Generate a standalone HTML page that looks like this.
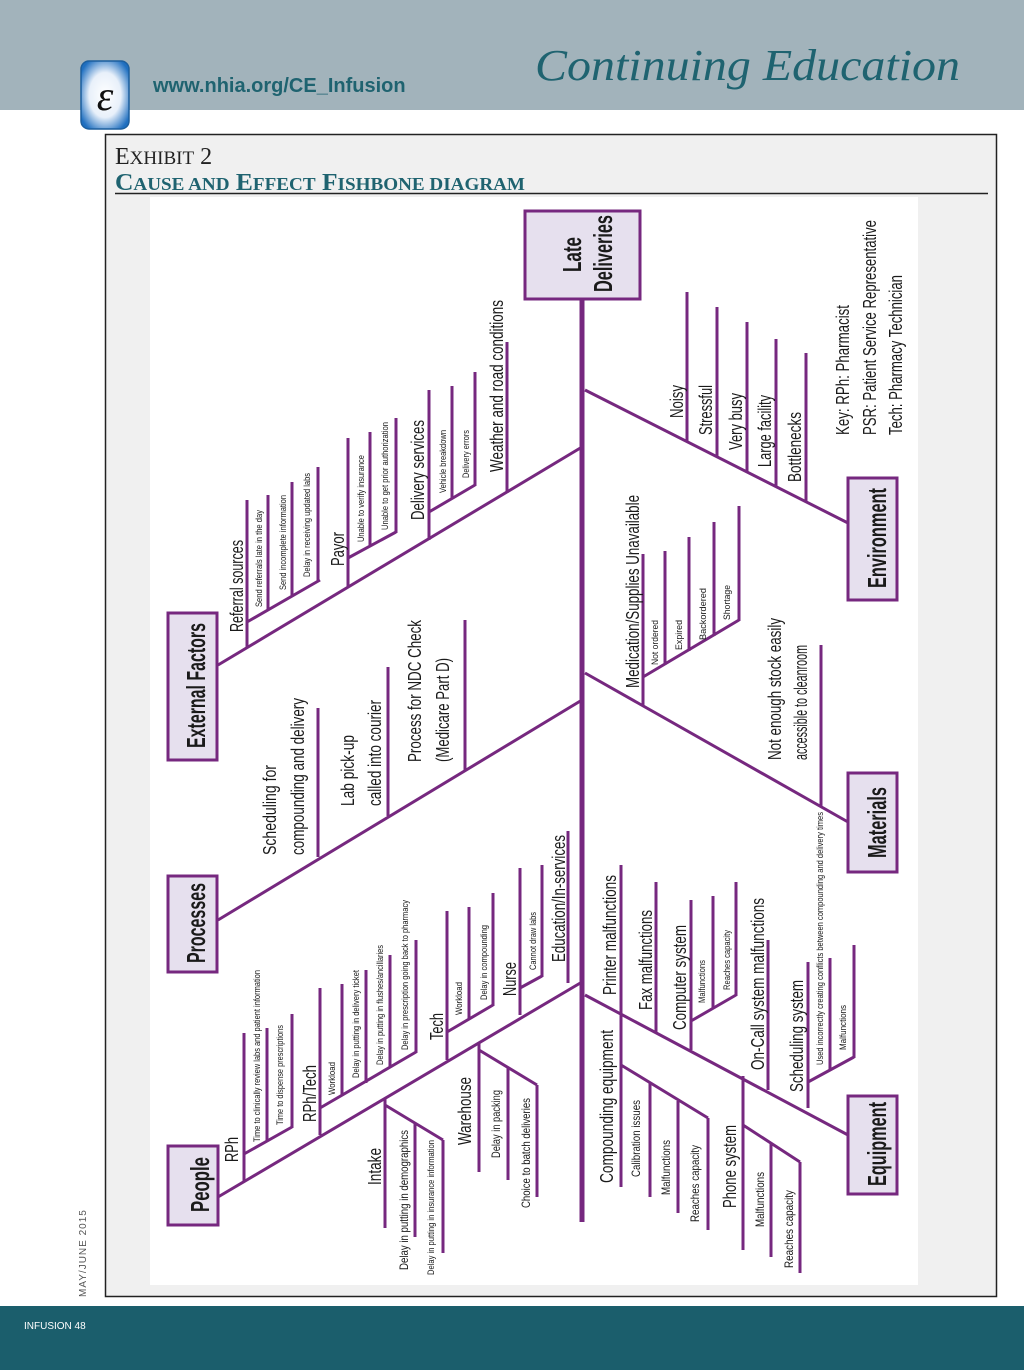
<!DOCTYPE html>
<html><head><meta charset="utf-8"><style>
html,body{margin:0;padding:0;background:#fff;width:1024px;height:1370px;overflow:hidden}
svg{display:block}
text{font-family:"Liberation Sans",sans-serif;fill:#1a1a1a}
</style></head><body>
<svg width="1024" height="1370" viewBox="0 0 1024 1370" xmlns="http://www.w3.org/2000/svg">
<defs><radialGradient id="lg" cx="50%" cy="50%" r="60%"><stop offset="0" stop-color="#fff"/><stop offset="0.55" stop-color="#e8f0fa"/><stop offset="1" stop-color="#1f6fc0"/></radialGradient></defs>
<rect x="0" y="0" width="1024" height="110" fill="#a2b3bb"/>
<rect x="81" y="61" width="48" height="68" rx="8" fill="url(#lg)" stroke="#1c5f9e" stroke-width="1.5"/>
<text x="105" y="110" font-size="42" text-anchor="middle" style="font-family:'Liberation Serif',serif;fill:#111;font-style:italic">ε</text>
<text x="153" y="92" font-size="20" style="fill:#1f6370;font-weight:bold">www.nhia.org/CE_Infusion</text>
<text x="535" y="80" font-size="44" textLength="425" lengthAdjust="spacingAndGlyphs" style="font-family:'Liberation Serif',serif;font-style:italic;fill:#1f6370">Continuing Education</text>

<rect x="105.5" y="134.5" width="891" height="1162" fill="#f0f0f0" stroke="#222" stroke-width="1.5"/>
<text x="115" y="164" font-size="24" style="font-family:'Liberation Serif',serif;fill:#222">E<tspan font-size="19">XHIBIT</tspan> 2</text>
<text x="115" y="190" font-size="24" textLength="410" lengthAdjust="spacingAndGlyphs" style="font-family:'Liberation Serif',serif;fill:#1f6370;font-weight:bold">C<tspan font-size="18">AUSE AND</tspan> E<tspan font-size="18">FFECT</tspan> F<tspan font-size="18">ISHBONE DIAGRAM</tspan></text>
<line x1="115" y1="193.5" x2="988" y2="193.5" stroke="#222" stroke-width="1.5"/>
<rect x="150" y="197" width="768" height="1088" fill="#fff"/>

<text transform="translate(86,1297) rotate(-90)" font-size="10" style="fill:#555;letter-spacing:1px">MAY/JUNE 2015</text>
<rect x="0" y="1306" width="1024" height="64" fill="#1b5e6c"/>
<text x="24" y="1329" font-size="10" style="fill:#fff">INFUSION 48</text>

<g stroke="#76287f" fill="none" stroke-width="3">
<line x1="582" y1="298" x2="582" y2="1222" stroke-width="5"/>
<!-- main bones -->
<line x1="218" y1="665" x2="582" y2="447"/>
<line x1="218" y1="920" x2="582" y2="700"/>
<line x1="218" y1="1197" x2="582" y2="982"/>
<line x1="585" y1="390" x2="848" y2="523"/>
<line x1="585" y1="673" x2="848" y2="822"/>
<line x1="585" y1="995" x2="848" y2="1135"/>
<!-- External -->
<path d="M247 500V648 M247 622L320 580 M268 495V610 M292 482V597 M318 467V582"/>
<path d="M348 438V588 M348 558L396 532 M370 432V547 M396 418V533"/>
<path d="M429 390V540 M429 512L475 485 M452 386V499 M475 372V486"/>
<path d="M507 342V493"/>
<!-- Processes -->
<path d="M318 708V857 M388 667V816 M465 620V770"/>
<!-- People -->
<path d="M244 1033V1182 M244 1154L292 1127 M267 1028V1141 M292 1014V1128"/>
<path d="M320 988V1135 M320 1108L416 1052 M342 984V1096 M366 970V1083 M390 955V1068 M416 940V1053"/>
<path d="M447 911V1060 M447 1032L493 1005 M469 907V1019 M493 893V1006"/>
<path d="M520 868V1015 M520 988L542 976 M542 865V977"/>
<path d="M568 831V983"/>
<path d="M385 1098V1228 M385 1105L443 1140 M415 1123V1237 M443 1140V1253"/>
<path d="M479 1042V1172 M479 1050L537 1085 M508 1067V1180 M537 1085V1197"/>
<!-- Equipment -->
<path d="M621 865V1187 M621 1065L708 1118 M650 1083V1197 M678 1101V1213 M708 1118V1230"/>
<path d="M656 882V1032 M691 900V1050 M691 1021L736 995 M713 896V1008 M736 882V996"/>
<path d="M743 1076V1250 M743 1125L800 1162 M771 1143V1257 M800 1162V1273"/>
<path d="M768 940V1090 M808 962V1108 M808 1082L854 1057 M830 958V1070 M854 945V1058"/>
<!-- Materials -->
<path d="M643 554V706 M643 677L739 620 M665 551V665 M689 537V651 M714 522V636 M739 506V621"/>
<path d="M821 645V806"/>
<!-- Environment -->
<path d="M687 292V442 M717 307V457 M747 322V472 M776 339V487 M806 353V502"/>
</g>
<!-- boxes -->
<g fill="#e6e0ee" stroke="#76287f" stroke-width="3">
<rect x="525" y="211" width="115" height="88"/>
<rect x="168" y="613" width="49" height="147"/>
<rect x="168" y="876" width="49" height="96"/>
<rect x="168" y="1146" width="50" height="79"/>
<rect x="848" y="478" width="49" height="122"/>
<rect x="848" y="773" width="49" height="99"/>
<rect x="848" y="1096" width="49" height="98"/>
</g>
<g font-weight="bold" font-size="26">
<text transform="translate(581,272) rotate(-90)" textLength="35" lengthAdjust="spacingAndGlyphs">Late</text>
<text transform="translate(612,292) rotate(-90)" textLength="77" lengthAdjust="spacingAndGlyphs">Deliveries</text>
<text transform="translate(205,748) rotate(-90)" textLength="125" lengthAdjust="spacingAndGlyphs">External Factors</text>
<text transform="translate(205,963) rotate(-90)" textLength="80" lengthAdjust="spacingAndGlyphs">Processes</text>
<text transform="translate(209,1212) rotate(-90)" textLength="55" lengthAdjust="spacingAndGlyphs">People</text>
<text transform="translate(886,588) rotate(-90)" textLength="100" lengthAdjust="spacingAndGlyphs">Environment</text>
<text transform="translate(886,858) rotate(-90)" textLength="71" lengthAdjust="spacingAndGlyphs">Materials</text>
<text transform="translate(886,1186) rotate(-90)" textLength="84" lengthAdjust="spacingAndGlyphs">Equipment</text>
</g>
<g font-size="18">
<text transform="translate(243,632) rotate(-90)" textLength="92" lengthAdjust="spacingAndGlyphs">Referral sources</text>
<text transform="translate(344,566) rotate(-90)" textLength="34" lengthAdjust="spacingAndGlyphs">Payor</text>
<text transform="translate(424,520) rotate(-90)" textLength="100" lengthAdjust="spacingAndGlyphs">Delivery services</text>
<text transform="translate(503,472) rotate(-90)" textLength="172" lengthAdjust="spacingAndGlyphs">Weather and road conditions</text>
<text transform="translate(276,855) rotate(-90)" textLength="90" lengthAdjust="spacingAndGlyphs">Scheduling for</text>
<text transform="translate(304,855) rotate(-90)" textLength="157" lengthAdjust="spacingAndGlyphs">compounding and delivery</text>
<text transform="translate(354,806) rotate(-90)" textLength="71" lengthAdjust="spacingAndGlyphs">Lab pick-up</text>
<text transform="translate(381,806) rotate(-90)" textLength="106" lengthAdjust="spacingAndGlyphs">called into courier</text>
<text transform="translate(421,762) rotate(-90)" textLength="142" lengthAdjust="spacingAndGlyphs">Process for NDC Check</text>
<text transform="translate(449,762) rotate(-90)" textLength="104" lengthAdjust="spacingAndGlyphs">(Medicare Part D)</text>
<text transform="translate(238,1162) rotate(-90)" textLength="25" lengthAdjust="spacingAndGlyphs">RPh</text>
<text transform="translate(316,1122) rotate(-90)" textLength="57" lengthAdjust="spacingAndGlyphs">RPh/Tech</text>
<text transform="translate(443,1040) rotate(-90)" textLength="27" lengthAdjust="spacingAndGlyphs">Tech</text>
<text transform="translate(516,996) rotate(-90)" textLength="34" lengthAdjust="spacingAndGlyphs">Nurse</text>
<text transform="translate(565,962) rotate(-90)" textLength="127" lengthAdjust="spacingAndGlyphs">Education/In-services</text>
<text transform="translate(381,1185) rotate(-90)" textLength="37" lengthAdjust="spacingAndGlyphs">Intake</text>
<text transform="translate(471,1145) rotate(-90)" textLength="68" lengthAdjust="spacingAndGlyphs">Warehouse</text>
<text transform="translate(616,995) rotate(-90)" textLength="120" lengthAdjust="spacingAndGlyphs">Printer malfunctions</text>
<text transform="translate(652,1010) rotate(-90)" textLength="100" lengthAdjust="spacingAndGlyphs">Fax malfunctions</text>
<text transform="translate(686,1030) rotate(-90)" textLength="105" lengthAdjust="spacingAndGlyphs">Computer system</text>
<text transform="translate(764,1070) rotate(-90)" textLength="172" lengthAdjust="spacingAndGlyphs">On-Call system malfunctions</text>
<text transform="translate(803,1092) rotate(-90)" textLength="112" lengthAdjust="spacingAndGlyphs">Scheduling system</text>
<text transform="translate(613,1183) rotate(-90)" textLength="153" lengthAdjust="spacingAndGlyphs">Compounding equipment</text>
<text transform="translate(736,1208) rotate(-90)" textLength="83" lengthAdjust="spacingAndGlyphs">Phone system</text>
<text transform="translate(639,688) rotate(-90)" textLength="193" lengthAdjust="spacingAndGlyphs">Medication/Supplies Unavailable</text>
<text transform="translate(781,760) rotate(-90)" textLength="142" lengthAdjust="spacingAndGlyphs">Not enough stock easily</text>
<text transform="translate(807,760) rotate(-90)" textLength="115" lengthAdjust="spacingAndGlyphs">accessible to cleanroom</text>
<text transform="translate(683,418) rotate(-90)" textLength="33" lengthAdjust="spacingAndGlyphs">Noisy</text>
<text transform="translate(712,435) rotate(-90)" textLength="50" lengthAdjust="spacingAndGlyphs">Stressful</text>
<text transform="translate(742,450) rotate(-90)" textLength="57" lengthAdjust="spacingAndGlyphs">Very busy</text>
<text transform="translate(771,467) rotate(-90)" textLength="72" lengthAdjust="spacingAndGlyphs">Large facility</text>
<text transform="translate(801,482) rotate(-90)" textLength="70" lengthAdjust="spacingAndGlyphs">Bottlenecks</text>
<text transform="translate(849,435) rotate(-90)" textLength="130" lengthAdjust="spacingAndGlyphs">Key: RPh: Pharmacist</text>
<text transform="translate(876,435) rotate(-90)" textLength="215" lengthAdjust="spacingAndGlyphs">PSR: Patient Service Representative</text>
<text transform="translate(902,435) rotate(-90)" textLength="160" lengthAdjust="spacingAndGlyphs">Tech: Pharmacy Technician</text>
</g>
<g font-size="12">
<text transform="translate(408,1270) rotate(-90)" textLength="140" lengthAdjust="spacingAndGlyphs">Delay in putting in demographics</text>
<text transform="translate(500,1158) rotate(-90)" textLength="68" lengthAdjust="spacingAndGlyphs">Delay in packing</text>
<text transform="translate(530,1208) rotate(-90)" textLength="110" lengthAdjust="spacingAndGlyphs">Choice to batch deliveries</text>
<text transform="translate(640,1177) rotate(-90)" textLength="77" lengthAdjust="spacingAndGlyphs">Calibration issues</text>
<text transform="translate(670,1195) rotate(-90)" textLength="55" lengthAdjust="spacingAndGlyphs">Malfunctions</text>
<text transform="translate(699,1222) rotate(-90)" textLength="77" lengthAdjust="spacingAndGlyphs">Reaches capacity</text>
<text transform="translate(764,1227) rotate(-90)" textLength="55" lengthAdjust="spacingAndGlyphs">Malfunctions</text>
<text transform="translate(793,1268) rotate(-90)" textLength="78" lengthAdjust="spacingAndGlyphs">Reaches capacity</text>
</g>
<g font-size="9">
<text transform="translate(262,607) rotate(-90)" textLength="97" lengthAdjust="spacingAndGlyphs">Send referrals late in the day</text>
<text transform="translate(286,590) rotate(-90)" textLength="95" lengthAdjust="spacingAndGlyphs">Send incomplete information</text>
<text transform="translate(310,577) rotate(-90)" textLength="104" lengthAdjust="spacingAndGlyphs">Delay in receiving updated labs</text>
<text transform="translate(364,542) rotate(-90)" textLength="87" lengthAdjust="spacingAndGlyphs">Unable to verify insurance</text>
<text transform="translate(388,530) rotate(-90)" textLength="108" lengthAdjust="spacingAndGlyphs">Unable to get prior authorization</text>
<text transform="translate(446,493) rotate(-90)" textLength="63" lengthAdjust="spacingAndGlyphs">Vehicle breakdown</text>
<text transform="translate(469,478) rotate(-90)" textLength="48" lengthAdjust="spacingAndGlyphs">Delivery errors</text>
<text transform="translate(260,1142) rotate(-90)" textLength="172" lengthAdjust="spacingAndGlyphs">Time to clinically review labs and patient information</text>
<text transform="translate(283,1125) rotate(-90)" textLength="100" lengthAdjust="spacingAndGlyphs">Time to dispense prescriptions</text>
<text transform="translate(335,1095) rotate(-90)" textLength="33" lengthAdjust="spacingAndGlyphs">Workload</text>
<text transform="translate(359,1078) rotate(-90)" textLength="108" lengthAdjust="spacingAndGlyphs">Delay in putting in delivery ticket</text>
<text transform="translate(383,1065) rotate(-90)" textLength="120" lengthAdjust="spacingAndGlyphs">Delay in putting in flushes/ancillaries</text>
<text transform="translate(408,1050) rotate(-90)" textLength="150" lengthAdjust="spacingAndGlyphs">Delay in prescription going back to pharmacy</text>
<text transform="translate(462,1015) rotate(-90)" textLength="33" lengthAdjust="spacingAndGlyphs">Workload</text>
<text transform="translate(487,1000) rotate(-90)" textLength="75" lengthAdjust="spacingAndGlyphs">Delay in compounding</text>
<text transform="translate(536,970) rotate(-90)" textLength="58" lengthAdjust="spacingAndGlyphs">Cannot draw labs</text>
<text transform="translate(434,1275) rotate(-90)" textLength="135" lengthAdjust="spacingAndGlyphs">Delay in putting in insurance information</text>
<text transform="translate(705,1003) rotate(-90)" textLength="43" lengthAdjust="spacingAndGlyphs">Malfunctions</text>
<text transform="translate(730,990) rotate(-90)" textLength="60" lengthAdjust="spacingAndGlyphs">Reaches capacity</text>
<text transform="translate(823,1065) rotate(-90)" textLength="253" lengthAdjust="spacingAndGlyphs">Used incorrectly creating conflicts between compounding and delivery times</text>
<text transform="translate(846,1050) rotate(-90)" textLength="45" lengthAdjust="spacingAndGlyphs">Malfunctions</text>
<text transform="translate(658,665) rotate(-90)" textLength="45" lengthAdjust="spacingAndGlyphs">Not ordered</text>
<text transform="translate(682,650) rotate(-90)" textLength="30" lengthAdjust="spacingAndGlyphs">Expired</text>
<text transform="translate(706,640) rotate(-90)" textLength="52" lengthAdjust="spacingAndGlyphs">Backordered</text>
<text transform="translate(730,620) rotate(-90)" textLength="35" lengthAdjust="spacingAndGlyphs">Shortage</text>
</g>
</svg>
</body></html>
